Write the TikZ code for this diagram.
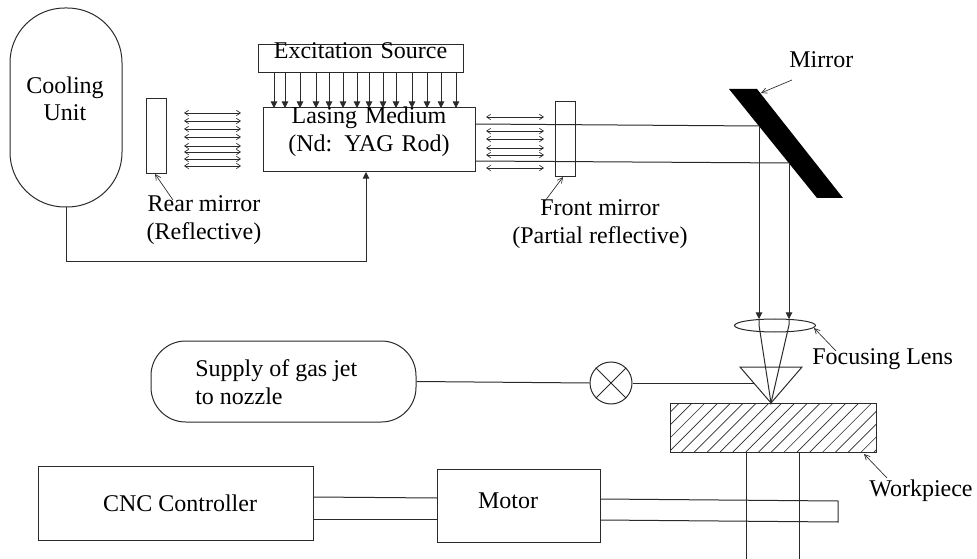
\documentclass[tikz,border=0pt]{standalone}
\usepackage{fontspec}
\setmainfont{Liberation Serif}
\usetikzlibrary{arrows.meta,fit,calc,shapes.geometric}
\definecolor{ink}{HTML}{2A2A2A}
\tikzset{
  box/.style={draw=ink,line width=0.75pt,inner sep=0pt},
  lab/.style={font=\fontsize{18}{20.5}\selectfont,align=center,inner sep=0pt,text=black},
  beam/.style={draw=ink,line width=0.75pt},
  pump/.style={draw=ink,line width=0.75pt,-{Triangle[length=5pt,width=5pt]}},
  wave/.style={draw=ink,line width=0.5pt,{Straight Barb[length=3pt,width=4pt]}-{Straight Barb[length=3pt,width=4pt]}},
  lead/.style={draw=ink,line width=0.5pt,-{Straight Barb[length=4pt,width=4pt]}}
}
\begin{document}
\begin{tikzpicture}[x=0.75pt,y=-0.75pt]
\useasboundingbox (0,0) rectangle (977,559);
% COOLING
\node[box,rounded corners=41pt,fit={(10,8) (122,207)}] (cooling) {};
\node[lab] (coolingtext) at (65,99) {Cooling\\Unit};
% REAR MIRROR
\node[box,fit={(146,99) (166,174)}] (rear) {};
\foreach \yy in {113,121,129,137,146,152,159,166}{
  \draw[wave] (184,\yy) -- (241,\yy);
}
\node[lab] (reartext) at (204,220) {Rear mirror\\(Reflective)};
\coordinate (rearfoot) at (173,200);
\draw[lead] (rearfoot) -- (155,174);
% SOURCE AND MEDIUM
\node[box,fit={(258,45) (463,73)},lab] (source) {Excitation Source};
\node[box,fit={(263,108) (475,172)},lab] (medium) {Lasing Medium\\(Nd: YAG Rod)};
\foreach \xx in {274,285,300,316,329,343,357,369,383,396,412,427,441,456}{
  \draw[pump] (\xx,73) -- (\xx,108);
}
\coordinate (coolturn) at (66,262);
\coordinate (medturn) at (366,262);
\draw[pump] (cooling.south -| coolturn) -- (coolturn) -- (medturn) -- (366,172);
% FRONT MIRROR
\node[box,fit={(555,102) (575,177)}] (front) {};
\foreach \yy in {117,131,139,148,155,168}{
  \draw[wave] (486,\yy) -- (544,\yy);
}
\node[lab] (fronttext) at (600,224) {Front mirror\\(Partial reflective)};
\coordinate (frontfoot) at (545,201);
\draw[lead] (frontfoot) -- (563,177);
% TURNING MIRROR
\fill[black] (729,89) -- (757,89) -- (843,198) -- (817,198) -- cycle;
\coordinate (hita) at (759,126);
\coordinate (hitb) at (789,163);
\draw[beam] (475,124) -- (hita);
\draw[beam] (475,161) -- (hitb);
\node[lab,anchor=west] (mirrortext) at (789,60) {Mirror};
\coordinate (mirrorfoot) at (792,80);
\draw[lead] (mirrorfoot) -- (761,93);
% LENS AND NOZZLE
\node[box,ellipse,minimum width=60.75pt,minimum height=9.75pt] (lens) at (775,325.5) {};
\coordinate (focus) at (771,403);
\coordinate (lensa) at (759,325);
\coordinate (lensb) at (789,325);
\draw[pump] (hita) -- (759,319);
\draw[pump] (hitb) -- (789,319);
\draw[beam] (759,319) -- (lensa) -- (focus) -- (lensb) -- (789,319);
\draw[beam] (740,367) -- (802,367) -- (focus) -- cycle;
\node[lab,anchor=west] (lenstext) at (812,359) {Focusing Lens};
\coordinate (lensfoot) at (836,351);
\draw[lead] (lensfoot) -- (814,328);
% GAS
\node[box,rounded corners=26pt,fit={(151,341) (416,422)}] (supply) {};
\node[lab,align=left,anchor=west] (supplytext) at (195,382) {Supply of gas jet\\to nozzle};
\node[box,circle,minimum size=31.5pt] (valve) at (611,383) {};
\draw[beam] (valve.north west) -- (valve.south east);
\draw[beam] (valve.north east) -- (valve.south west);
\draw[beam] (supply.east) -- (valve.west);
\draw[beam] (valve.east) -- (754,383);
% WORKPIECE
\node[box,fit={(670,403) (876,452)}] (work) {};
\begin{scope}
\clip (670,403) rectangle (876,452);
\foreach \i in {0,...,19}{
  \draw[beam,line width=0.5pt] (679.3+12.83*\i,403) -- ++(-49,49);
}
\end{scope}
\node[lab,anchor=west] (worktext) at (869,491) {Workpiece};
\coordinate (workfoot) at (887,478);
\draw[lead] (workfoot) -- (864,454);
% CNC AND MOTOR
\node[box,fit={(38,466) (313,540)}] (cnc) {};
\node[lab] (cnctext) at (180,503) {CNC Controller};
\node[box,fit={(437,469) (600,542)}] (motor) {};
\node[lab] (motortext) at (508,501) {Motor};
\draw[beam] (313,497) -- (437,498);
\draw[beam] (313,519) -- (437,519);
\draw[beam] (600,499) -- (838,501) -- (838,522) -- (600,520);
\draw[beam] (746,452) -- (746,559);
\draw[beam] (799,452) -- (799,559);
\end{tikzpicture}
\end{document}
